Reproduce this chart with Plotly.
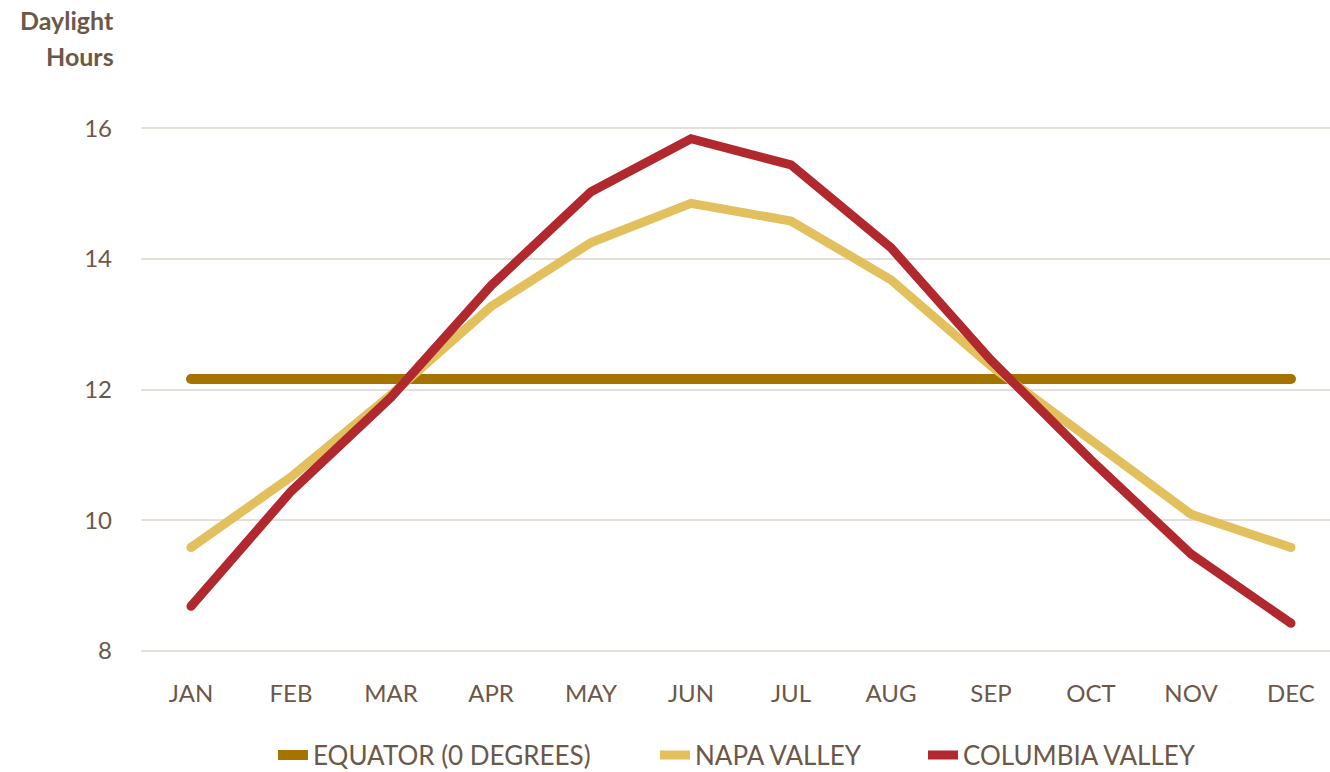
import plotly.graph_objects as go

months = ["JAN", "FEB", "MAR", "APR", "MAY", "JUN", "JUL", "AUG", "SEP", "OCT", "NOV", "DEC"]
equator = [12.16] * 12
napa_valley = [9.58, 10.66, 11.92, 13.27, 14.25, 14.85, 14.58, 13.68, 12.36, 11.22, 10.09, 9.58]
columbia_valley = [8.68, 10.44, 11.88, 13.59, 15.03, 15.84, 15.44, 14.17, 12.45, 10.92, 9.48, 8.42]
y_ticks = [8, 10, 12, 14, 16]

text_color = "#6B5849"
font_family = "Lato, 'Open Sans', sans-serif"

series = [
    ("EQUATOR (0 DEGREES)", equator, "#A57300", 10, "legend", 273),
    ("NAPA VALLEY", napa_valley, "#E2C05E", 9, "legend2", 655),
    ("COLUMBIA VALLEY", columbia_valley, "#B1282E", 9, "legend3", 923),
]

fig = go.Figure()
legends = {}
for name, values, color, width, legend_id, legend_x in series:
    n = len(values)
    xs = list(range(n))
    fig.add_trace(go.Scatter(
        x=xs, y=values, name=name, mode="lines",
        line=dict(color=color, width=width), legend=legend_id,
    ))
    # round dots at both ends give the lines rounded caps
    fig.add_trace(go.Scatter(
        x=[xs[0], xs[-1]], y=[values[0], values[-1]], mode="markers",
        marker=dict(color=color, size=width, line=dict(width=0)),
        showlegend=False, hoverinfo="skip",
    ))
    legends[legend_id] = dict(
        orientation="h", xref="container", yref="container",
        x=legend_x / 1330, xanchor="left", y=1 - 755 / 772, yanchor="middle",
        font=dict(size=26, color=text_color), bgcolor="rgba(0,0,0,0)",
    )

fig.update_layout(
    width=1330, height=772,
    margin=dict(l=141, r=0, t=127, b=120, autoexpand=False),
    paper_bgcolor="white", plot_bgcolor="white",
    font=dict(family=font_family, color=text_color),
    showlegend=True,
    **legends,
    xaxis=dict(
        range=[-0.5, 11.39], tickmode="array",
        tickvals=list(range(len(months))), ticktext=months,
        showgrid=False, zeroline=False, showline=False,
        tickfont=dict(size=24, color=text_color), ticks="",
        ticklabelstandoff=25,
    ),
    yaxis=dict(
        range=[7.98, 16.02], tickmode="array", tickvals=y_ticks,
        showgrid=True, gridcolor="#E6DED9", gridwidth=2,
        zeroline=False, showline=False,
        tickfont=dict(size=24, color=text_color), ticks="",
        ticklabelstandoff=28,
    ),
    annotations=[
        dict(text="<b>Daylight</b>", xref="paper", yref="paper",
             x=-0.021, y=1 + (127 - 20) / 525, xanchor="right", yanchor="middle",
             showarrow=False, font=dict(size=25, color=text_color, family=font_family)),
        dict(text="<b>Hours</b>", xref="paper", yref="paper",
             x=-0.021, y=1 + (127 - 56) / 525, xanchor="right", yanchor="middle",
             showarrow=False, font=dict(size=25, color=text_color, family=font_family)),
    ],
)

fig.write_html("out.html")
